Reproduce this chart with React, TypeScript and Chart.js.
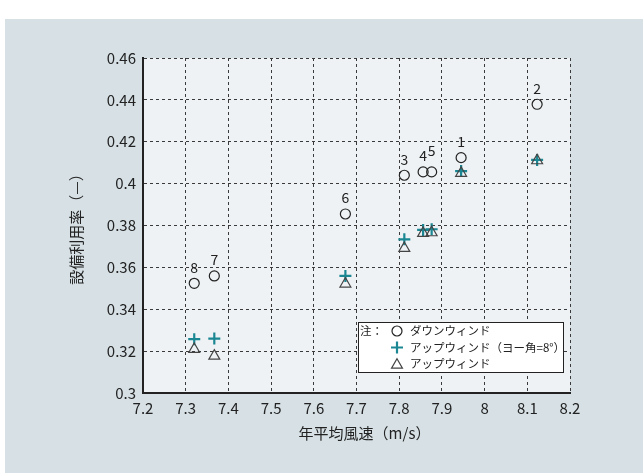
import React, { useEffect, useRef } from 'react';
import { Chart, registerables } from 'chart.js';
import { drawPoint } from 'chart.js/helpers';

Chart.register(...registerables);

// ---- data ----
const siteLabels = ['1', '2', '3', '4', '5', '6', '7', '8'];
const windSpeed = [7.945, 8.123, 7.812, 7.856, 7.876, 7.674, 7.367, 7.32];
const downwind = [0.4124, 0.4379, 0.404, 0.4056, 0.4056, 0.3855, 0.3559, 0.3524];
const upwindYaw8 = [0.406, 0.4113, 0.3734, 0.3779, 0.3782, 0.3559, 0.326, 0.3257];
const upwind = [0.405, 0.411, 0.3691, 0.3763, 0.3766, 0.3521, 0.3177, 0.3209];

const seriesNames = ['ダウンウィンド', 'アップウィンド（ヨー角=8°）', 'アップウィンド'];
const legendNote = '注：';
const xTitle = '年平均風速（m/s）';
const yTitle = '設備利用率（—）';
const xMin = 7.2;
const xMax = 8.2;
const xStep = 0.1;
const yMin = 0.3;
const yMax = 0.46;
const yStep = 0.02;

const FONT = '"Noto Sans CJK JP", "Noto Sans", sans-serif';
const TEXT = '#222';
const CIRCLE_COLOR = '#222';
const TRI_COLOR = '#444';
const CROSS_COLOR = '#1b8793';

const bgPlugin = {
  id: 'bgPanel',
  beforeDraw(chart: any) {
    const { ctx, width, height, chartArea: a } = chart;
    ctx.save();
    ctx.fillStyle = '#ffffff';
    ctx.fillRect(0, 0, width, height);
    ctx.fillStyle = '#d6e0e5';
    ctx.fillRect(5, 19, width - 5, height - 19);
    ctx.fillStyle = '#eef2f4';
    ctx.fillRect(a.left, a.top, a.right - a.left, a.bottom - a.top);
    ctx.restore();
  },
};

const labelShift: Record<string, number> = { '5': -5 };

const labelsPlugin = {
  id: 'siteLabels',
  afterDatasetsDraw(chart: any) {
    const { ctx } = chart;
    const meta = chart.getDatasetMeta(0);
    ctx.save();
    ctx.font = `14px ${FONT}`;
    ctx.fillStyle = TEXT;
    ctx.textAlign = 'center';
    ctx.textBaseline = 'middle';
    meta.data.forEach((p: any, i: number) => {
      const lab = siteLabels[i];
      ctx.fillText(lab, p.x, p.y - 16 + (labelShift[lab] || 0));
    });
    ctx.restore();
  },
};

const xTitlePlugin = {
  id: 'xTitle',
  afterDraw(chart: any) {
    const { ctx, chartArea: a } = chart;
    ctx.save();
    ctx.font = `15px ${FONT}`;
    ctx.fillStyle = TEXT;
    ctx.textAlign = 'center';
    ctx.textBaseline = 'middle';
    ctx.fillText(xTitle, (a.left + a.right) / 2 + 8, 433);
    ctx.restore();
  },
};

const legendPlugin = {
  id: 'customLegend',
  afterDraw(chart: any) {
    const { ctx } = chart;
    const bx = 358.5, by = 322.5, bw = 205, bh = 50;
    ctx.save();
    ctx.fillStyle = '#ffffff';
    ctx.fillRect(bx, by, bw, bh);
    ctx.strokeStyle = '#222';
    ctx.lineWidth = 1;
    ctx.strokeRect(bx, by, bw, bh);
    ctx.font = `11.5px ${FONT}`;
    ctx.fillStyle = TEXT;
    ctx.textAlign = 'left';
    ctx.textBaseline = 'middle';
    const rows = [331, 347.5, 364];
    ctx.fillText(legendNote, 360, rows[0]);
    const syms = [
      { style: 'circle', r: 5, color: CIRCLE_COLOR, w: 1.2 },
      { style: 'cross', r: 6, color: CROSS_COLOR, w: 2.2 },
      { style: 'triangle', r: 6.3, color: TRI_COLOR, w: 1.2 },
    ];
    syms.forEach((s, i) => {
      ctx.save();
      ctx.strokeStyle = s.color;
      ctx.fillStyle = 'rgba(0,0,0,0)';
      ctx.lineWidth = s.w;
      drawPoint(ctx, { pointStyle: s.style, radius: s.r, borderWidth: s.w, rotation: 0 } as any, 397, rows[i] + (s.style === 'triangle' ? 1 : 0));
      ctx.restore();
      ctx.fillStyle = TEXT;
      ctx.fillText(seriesNames[i], 410, rows[i]);
    });
    ctx.restore();
  },
};

const fmt = (digits: number) => (v: any) => String(parseFloat(Number(v).toFixed(digits)));

export default function App() {
  const ref = useRef<HTMLCanvasElement | null>(null);
  useEffect(() => {
    document.body.style.margin = '0';
    const canvas = ref.current;
    if (!canvas) return;
    const pts = (ys: number[]) => windSpeed.map((x, i) => ({ x, y: ys[i] }));
    const chart = new Chart(canvas, {
      type: 'scatter',
      data: {
        datasets: [
          {
            label: seriesNames[0],
            data: pts(downwind),
            pointStyle: 'circle',
            pointRadius: 5,
            pointHoverRadius: 5,
            borderColor: CIRCLE_COLOR,
            backgroundColor: 'rgba(0,0,0,0)',
            borderWidth: 1.2,
          },
          {
            label: seriesNames[2],
            data: pts(upwind),
            pointStyle: 'triangle',
            pointRadius: 6.3,
            pointHoverRadius: 6.3,
            borderColor: TRI_COLOR,
            backgroundColor: 'rgba(0,0,0,0)',
            borderWidth: 1.2,
          },
          {
            label: seriesNames[1],
            data: pts(upwindYaw8),
            pointStyle: 'cross',
            pointRadius: 6,
            pointHoverRadius: 6,
            borderColor: CROSS_COLOR,
            backgroundColor: CROSS_COLOR,
            borderWidth: 2.2,
          },
        ],
      },
      options: {
        animation: false,
        responsive: false,
        devicePixelRatio: 1,
        events: [],
        layout: { padding: { left: 60, right: 73, top: 58, bottom: 0 } },
        plugins: { legend: { display: false }, tooltip: { enabled: false } },
        scales: {
          x: {
            type: 'linear',
            min: xMin,
            max: xMax,
            ticks: {
              stepSize: xStep,
              padding: 6,
              color: TEXT,
              font: { family: FONT, size: 15 },
              maxRotation: 0,
              autoSkip: false,
              callback: fmt(1),
            },
            grid: { color: '#3a3a3a', lineWidth: 1, drawTicks: false },
            border: { display: true, color: '#222', width: 2, dash: [3, 3] },
            title: { display: false, text: xTitle },
            afterFit: (s: any) => {
              s.height = 80;
              s.paddingLeft = 0;
              s.paddingRight = 0;
            },
          },
          y: {
            type: 'linear',
            min: yMin,
            max: yMax,
            ticks: {
              stepSize: yStep,
              padding: 7,
              color: TEXT,
              font: { family: FONT, size: 15 },
              autoSkip: false,
              callback: fmt(2),
            },
            grid: { color: '#3a3a3a', lineWidth: 1, drawTicks: false },
            border: { display: true, color: '#222', width: 2, dash: [3, 3] },
            title: {
              display: true,
              text: yTitle,
              color: TEXT,
              font: { family: FONT, size: 15 },
              padding: { top: 7, bottom: 0 },
            },
            afterFit: (s: any) => {
              s.width = 83;
              s.paddingTop = 0;
              s.paddingBottom = 0;
            },
          },
        },
      } as any,
      plugins: [bgPlugin, labelsPlugin, xTitlePlugin, legendPlugin],
    });
    return () => chart.destroy();
  }, []);
  return <canvas ref={ref} width={643} height={473} style={{ display: 'block' }} />;
}
